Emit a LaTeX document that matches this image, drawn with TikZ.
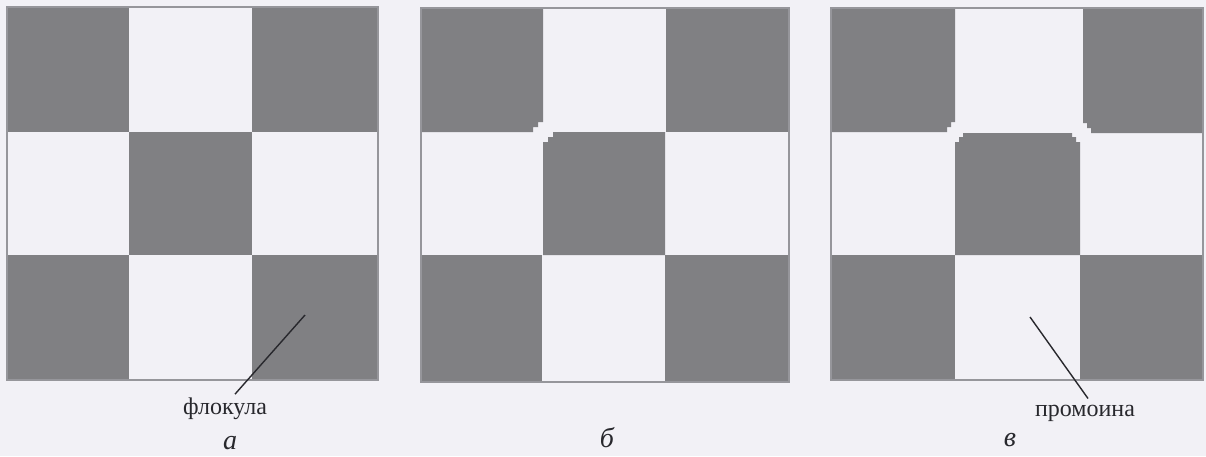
\documentclass[tikz,border=0pt]{standalone}
\usepackage{fontspec}
\setmainfont{Liberation Serif}
\definecolor{bgc}{RGB}{242,241,246}
\definecolor{cellc}{RGB}{128,128,131}
\definecolor{edgec}{RGB}{150,150,155}
\definecolor{leadc}{RGB}{40,40,45}
\tikzset{
  darkcell/.style={fill=cellc, draw=none},
  frame/.style={draw=edgec, line width=1.2pt},
  leader/.style={draw=leadc, line width=1.4pt},
  lbl/.style={inner sep=0pt, anchor=base, font=\fontsize{24}{28}\selectfont, text=leadc},
  panellbl/.style={inner sep=0pt, anchor=base, font=\fontsize{28}{32}\selectfont\itshape, text=leadc}
}
\begin{document}
\begin{tikzpicture}[x=1pt,y=-1pt]
\fill[bgc] (0,0) rectangle (1206,456);
\useasboundingbox (0,0) rectangle (1206,456);

% ---------- panel a ----------
\fill[darkcell] (7,7) rectangle (129,132);
\fill[darkcell] (252,7) rectangle (378,132);
\fill[darkcell] (129,132) rectangle (252,255);
\fill[darkcell] (7,255) rectangle (129,380);
\fill[darkcell] (252,255) rectangle (378,380);
\draw[frame] (7,7) rectangle (378,380);

% ---------- panel b ----------
\fill[darkcell] (421,8) -- (543,8) -- (543,122) -- (538,122) -- (538,127) -- (533,127) -- (533,132) -- (421,132) -- cycle;
\fill[darkcell] (666,8) rectangle (789,132);
\fill[darkcell] (553,132) -- (665,132) -- (665,255) -- (543,255) -- (543,142) -- (548,142) -- (548,137) -- (553,137) -- cycle;
\fill[darkcell] (421,255) rectangle (542,382);
\fill[darkcell] (665,255) rectangle (789,382);
\draw[frame] (421,8) rectangle (789,382);

% ---------- panel c ----------
\fill[darkcell] (831,8) -- (955,8) -- (955,122) -- (951,122) -- (951,127) -- (947,127) -- (947,132) -- (831,132) -- cycle;
\fill[darkcell] (1083,8) -- (1203,8) -- (1203,133) -- (1091,133) -- (1091,128) -- (1087,128) -- (1087,123) -- (1083,123) -- cycle;
\fill[darkcell] (963,133) -- (1072,133) -- (1072,137) -- (1076,137) -- (1076,142) -- (1080,142) -- (1080,255) -- (955,255) -- (955,142) -- (959,142) -- (959,137) -- (963,137) -- cycle;
\fill[darkcell] (831,255) rectangle (955,380);
\fill[darkcell] (1080,255) rectangle (1203,380);
\draw[frame] (831,8) rectangle (1203,380);

% ---------- labels ----------
\node[lbl] (flok) at (225,414) {флокула};
\coordinate (flokpt) at (305,315);
\draw[leader] (flokpt) -- ([xshift=10pt,yshift=3pt]flok.north);

\node[lbl] (prom) at (1085,416) {промоина};
\coordinate (prompt) at (1030,317);
\draw[leader] (prompt) -- ([xshift=3pt,yshift=6pt]prom.north);

\node[panellbl] (la) at (230,449) {а};
\node[panellbl] (lb) at (607,447) {б};
\node[panellbl] (lc) at (1010,446) {в};
\end{tikzpicture}
\end{document}
